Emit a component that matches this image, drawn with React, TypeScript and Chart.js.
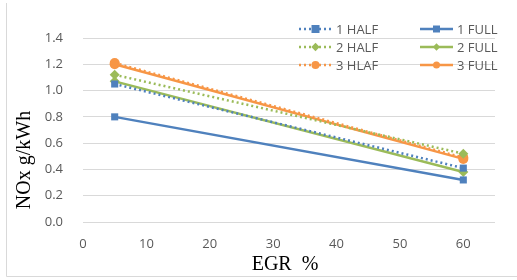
import React, { useEffect, useRef } from "react";
import { Chart, registerables } from "chart.js";

Chart.register(...registerables);

const egr = [5, 60];
const half1 = [1.05, 0.41];
const full1 = [0.8, 0.32];
const half2 = [1.12, 0.52];
const full2 = [1.07, 0.38];
const half3 = [1.21, 0.49];
const full3 = [1.2, 0.48];
const yTicks = [0, 0.2, 0.4, 0.6, 0.8, 1.0, 1.2, 1.4];
const xTicks = [0, 10, 20, 30, 40, 50, 60];

const BLUE = "#4F81BD";
const GREEN = "#9BBB59";
const ORANGE = "#F79646";

type S = { label: string; data: number[]; color: string; dotted: boolean; marker: string };
const series: S[] = [
  { label: "1 HALF", data: half1, color: BLUE, dotted: true, marker: "rect" },
  { label: "1 FULL", data: full1, color: BLUE, dotted: false, marker: "rect" },
  { label: "2 HALF", data: half2, color: GREEN, dotted: true, marker: "rectRot" },
  { label: "2 FULL", data: full2, color: GREEN, dotted: false, marker: "rectRot" },
  { label: "3 HLAF", data: half3, color: ORANGE, dotted: true, marker: "circle" },
  { label: "3 FULL", data: full3, color: ORANGE, dotted: false, marker: "circle" },
];

const SANS = "'Open Sans', 'Liberation Sans', sans-serif";
const SERIF = "'Liberation Serif', 'DejaVu Serif', serif";

function drawMarker(ctx: CanvasRenderingContext2D, m: string, x: number, y: number, r: number) {
  ctx.beginPath();
  if (m === "rect") {
    ctx.rect(x - r, y - r, 2 * r, 2 * r);
  } else if (m === "rectRot") {
    ctx.moveTo(x, y - r * 1.3);
    ctx.lineTo(x + r * 1.3, y);
    ctx.lineTo(x, y + r * 1.3);
    ctx.lineTo(x - r * 1.3, y);
    ctx.closePath();
  } else {
    ctx.arc(x, y, r, 0, Math.PI * 2);
  }
  ctx.fill();
}

const overlay = {
  id: "overlay",
  afterDraw(chart: any) {
    const ctx: CanvasRenderingContext2D = chart.ctx;
    ctx.save();
    // border
    ctx.strokeStyle = "#d9d9d9";
    ctx.lineWidth = 1;
    ctx.beginPath();
    ctx.moveTo(6.5, 3);
    ctx.lineTo(6.5, 276.5);
    ctx.lineTo(517, 276.5);
    ctx.stroke();
    // axis titles
    ctx.fillStyle = "#000";
    ctx.font = `20px ${SERIF}`;
    ctx.textAlign = "center";
    ctx.textBaseline = "alphabetic";
    ctx.fillText("EGR  %", 285, 270);
    ctx.save();
    ctx.translate(30, 160);
    ctx.rotate(-Math.PI / 2);
    ctx.fillText("NOx g/kWh", 0, 0);
    ctx.restore();
    // legend
    const cols = [299, 420];
    const rows = [29, 47, 65];
    ctx.font = `13px ${SANS}`;
    ctx.textAlign = "left";
    ctx.textBaseline = "middle";
    series.forEach((s, i) => {
      const cx = cols[i % 2];
      const cy = rows[Math.floor(i / 2)];
      ctx.strokeStyle = s.color;
      ctx.fillStyle = s.color;
      ctx.lineWidth = 2.5;
      ctx.setLineDash(s.dotted ? [2, 3] : []);
      ctx.beginPath();
      ctx.moveTo(cx, cy);
      ctx.lineTo(cx + 33, cy);
      ctx.stroke();
      ctx.setLineDash([]);
      const r = s.dotted ? 4 : 3.5;
      drawMarker(ctx, s.marker, cx + 16.5, cy, s.marker === "rectRot" ? r * 0.8 : r);
      ctx.fillStyle = "#595959";
      ctx.fillText(s.label, cx + 37, cy + 1);
    });
    ctx.restore();
  },
};

export default function App() {
  const ref = useRef<HTMLCanvasElement>(null);
  useEffect(() => {
    document.body.style.margin = "0";
    const chart = new Chart(ref.current!, {
      type: "line",
      data: {
        datasets: series.map((s) => ({
          label: s.label,
          data: s.data.map((v, i) => ({ x: egr[i], y: v })),
          borderColor: s.color,
          backgroundColor: s.color,
          borderWidth: 2.5,
          borderDash: s.dotted ? [2, 3] : [],
          pointStyle: s.marker as any,
          pointRadius: s.marker === "rectRot" ? 5 : 5,
          pointBorderWidth: 0,
          tension: 0,
        })),
      },
      options: {
        animation: false,
        responsive: false,
        maintainAspectRatio: false,
        layout: { padding: { left: 0, right: 22, top: 38, bottom: 0 } },
        plugins: { legend: { display: false }, tooltip: { enabled: false } },
        scales: {
          x: {
            type: "linear",
            min: 0,
            max: 65,
            afterBuildTicks: (s: any) => {
              s.ticks = xTicks.map((v) => ({ value: v }));
            },
            afterFit: (s: any) => {
              s.height = 58;
            },
            grid: { display: false, drawTicks: false },
            border: { display: false },
            ticks: {
              padding: 14,
              color: "#595959",
              font: { family: SANS, size: 13 },
              maxRotation: 0,
            },
          },
          y: {
            min: 0,
            max: 1.4,
            afterBuildTicks: (s: any) => {
              s.ticks = yTicks.map((v) => ({ value: v }));
            },
            afterFit: (s: any) => {
              s.width = 83;
            },
            grid: { color: "#d9d9d9", lineWidth: 1, drawTicks: false },
            border: { display: false },
            ticks: {
              padding: 20,
              color: "#595959",
              font: { family: SANS, size: 13 },
              callback: (v: any) => Number(v).toFixed(1),
            },
          },
        },
      },
      plugins: [overlay],
    });
    return () => chart.destroy();
  }, []);
  return <canvas ref={ref} width={517} height={280} style={{ display: "block" }} />;
}
